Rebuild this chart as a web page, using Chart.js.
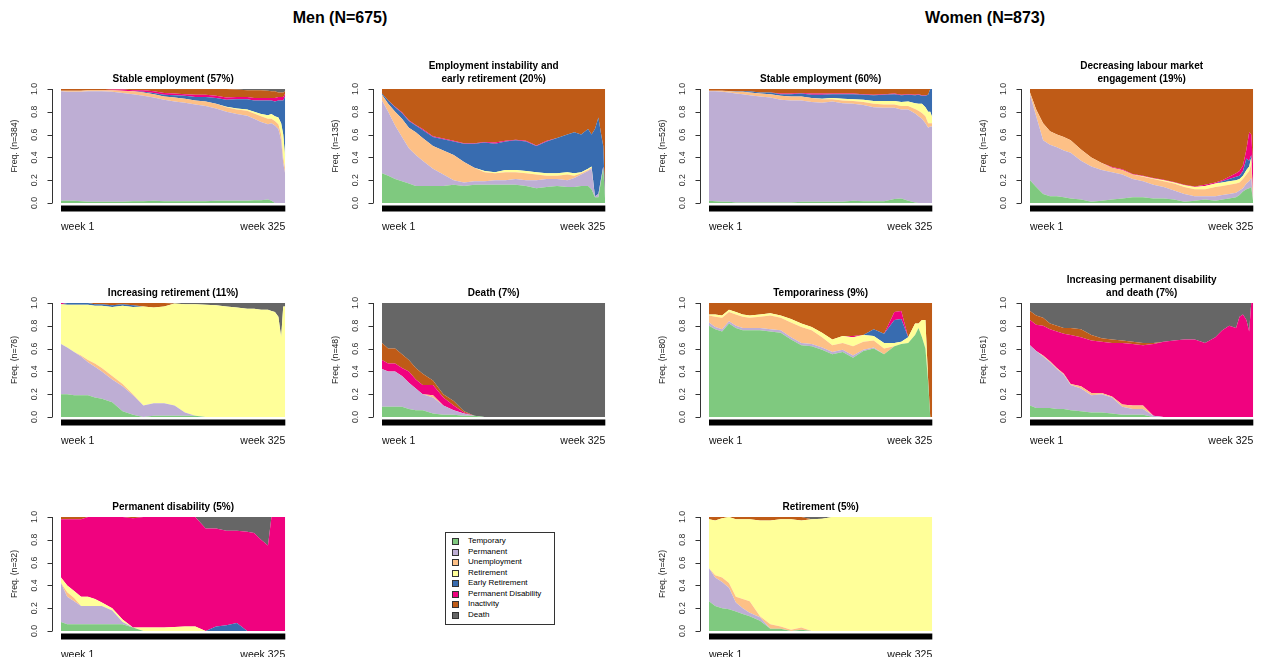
<!DOCTYPE html>
<html><head><meta charset="utf-8">
<script src="https://cdn.jsdelivr.net/npm/chart.js@4.4.1/dist/chart.umd.min.js"></script>
<style>
html,body{margin:0;padding:0;background:#fff;width:1271px;height:657px;overflow:hidden;font-family:"Liberation Sans",Arial,sans-serif;}
.grp{position:absolute;top:8px;font-weight:bold;font-size:16px;line-height:20px;transform:translateX(-50%);white-space:nowrap;color:#000;}
#legend{position:absolute;left:445px;top:532px;width:108px;height:91px;border:1px solid #333;background:#fff;}
#legend .row{position:absolute;left:0;height:10px;line-height:10px;font-size:8px;color:#000;white-space:nowrap;-webkit-font-smoothing:antialiased;}
#legend .sq{position:absolute;left:6px;top:2px;width:5px;height:5px;border:1px solid #333;}
#legend .tx{position:absolute;left:22px;top:0;color:#000;}
</style></head><body>
<div class="grp" style="left:340px">Men (N=675)</div>
<div class="grp" style="left:985px">Women (N=873)</div>
<div id="legend"></div>
<script>
// ---------- shared axes / categories ----------
const weeks = [1,10,20,30,40,50,60,75,90,105,120,135,150,165,180,195,210,225,240,255,270,280,290,300,305,310,315,319,322,325];
const weekTicks = [1, 325];
const states = ['Temporary','Permanent','Unemployment','Retirement','Early Retirement','Permanent Disability','Inactivity','Death'];
const stateColors = ['#7FC97F','#BEAED4','#FDC086','#FFFF99','#386CB0','#F0027F','#BF5B17','#666666'];

// ---------- Men: Stable employment (57%) ----------
const menStable_Temporary = [.02,.02,.02,.015,.01, .01,.01,.01,.01,.015, .015,.02,.015,.015,.015, .015,.015,.02,.02,.02, .02,.025,.025,.03,.02, 0,0,0,0,0];
const menStable_Permanent = [.96,.955,.955,.96,.97, .97,.97,.965,.955,.94, .925,.905,.89,.875,.865, .85,.835,.81,.78,.76, .745,.715,.685,.66,.68, .68,.65,.55,.35,.25];
const menStable_Unemployment = [.005,.01,.01,.01,.01, .01,.01,.015,.02,.025, .03,.03,.03,.035,.035, .035,.04,.04,.04,.04, .045,.045,.05,.05,.04, .04,.04,.05,.05,.04];
const menStable_Retirement = [0,0,0,0,0, 0,0,0,0,0, 0,0,0,0,0, 0,0,0,.005,.01, .01,.015,.02,.03,.04, .04,.06,.1,.2,.1];
const menStable_EarlyRetirement = [0,0,0,0,0, 0,0,0,0,0, .005,.01,.015,.02,.025, .03,.04,.05,.06,.08, .09,.1,.12,.13,.12, .13,.15,.2,.3,.55];
const menStable_PermDisability = [0,0,0,0,0, 0,0,.005,.01,.01, .015,.015,.015,.015,.015, .02,.02,.02,.02,.02, .02,.02,.02,.02,.02, .03,.03,.03,.03,.02];
const menStable_Inactivity = [.015,.015,.015,.015,.01, .01,.01,.01,.01,.02, .02,.025,.035,.04,.045, .05,.05,.06,.075,.065, .06,.07,.07,.065,.06, .06,.04,.04,.04,.02];
const menStable_Death = [0,0,0,0,0, 0,0,0,0,0, 0,0,0,0,0, 0,0,0,0,.005, .01,.01,.01,.015,.02, .02,.03,.03,.03,.02];

// ---------- Men: Employment instability and early retirement (20%) ----------
const menInstab_Temporary = [.26,.24,.21,.19,.17, .15,.15,.15,.15,.16, .15,.16,.16,.16,.16, .16,.15,.13,.14,.15, .14,.14,.15,.15,.12, .05,.05,.2,.3,0];
const menInstab_Permanent = [.64,.56,.47,.39,.31, .27,.22,.15,.1,.04, .03,.03,.03,.04,.04, .05,.05,.07,.07,.06, .06,.08,.1,.13,.18, .01,.03,.02,.02,0];
const menInstab_Unemployment = [.05,.07,.12,.16,.18, .2,.2,.2,.21,.22, .18,.12,.08,.06,.07, .06,.06,.05,.03,.03, .05,.02,.01,.01,.01, 0,0,0,0,0];
const menInstab_Retirement = [0,0,0,0,0, 0,0,0,0,0, 0,0,.01,.01,.02, .02,.02,.02,.02,.02, .02,.02,.01,.01,.01, 0,0,0,0,0];
const menInstab_EarlyRetirement = [.01,.03,.04,.05,.06, .06,.07,.08,.1,.12, .16,.21,.25,.25,.25, .26,.26,.23,.28,.31, .33,.36,.33,.35,.28, .59,.67,.38,.18,0];
const menInstab_PermDisability = [0,0,.005,.005,.005, .005,.01,.005,.005,.005, .005,.005,.005,.01,.005, .005,.005,.005,.005,0, 0,0,0,0,0, 0,0,0,0,0];
const menInstab_Inactivity = [.04,.1,.155,.205,.275, .315,.35,.415,.435,.455, .475,.475,.465,.47,.455, .445,.455,.495,.455,.43, .4,.38,.4,.35,.4, .35,.25,.4,.5,1];

// ---------- Women: Stable employment (60%) ----------
const womenStable_Temporary = [.02,.015,.01,.01,.005, .005,.005,.005,.005,.005, .005,.01,.01,.01,.01, .01,.02,.015,.015,.015, .035,.04,.02,.005,0, 0,0,0,0,0];
const womenStable_Permanent = [.96,.965,.965,.96,.955, .95,.94,.93,.92,.9, .895,.89,.875,.87,.88, .865,.85,.845,.825,.82, .8,.78,.8,.78,.76, .74,.7,.66,.67,.67];
const womenStable_Unemployment = [.005,.005,.01,.01,.015, .02,.025,.025,.03,.035, .035,.035,.035,.03,.02, .025,.025,.025,.03,.03, .03,.03,.03,.04,.05, .05,.06,.04,.03,.03];
const womenStable_Retirement = [0,0,0,0,0, 0,0,0,0,0, 0,0,0,.005,.01, .015,.015,.02,.025,.03, .03,.035,.04,.05,.06, .08,.08,.1,.1,.05];
const womenStable_EarlyRetirement = [0,0,0,.002,.005, .005,.01,.01,.015,.015, .02,.025,.03,.035,.035, .04,.045,.045,.05,.055, .06,.06,.06,.07,.08, .07,.1,.15,.2,.25];
const womenStable_PermDisability = [0,0,0,0,0, 0,0,0,0,.005, .005,.005,.01,.01,.005, .005,.005,.005,.005,.005, .005,.005,.005,.005,.005, .005,.005,0,0,0];
const womenStable_Inactivity = [.015,.015,.015,.018,.02, .02,.02,.03,.03,.04, .04,.035,.04,.04,.04, .04,.04,.045,.05,.045, .04,.05,.045,.05,.045, .055,.055,.05,0,0];

// ---------- Women: Decreasing labour market engagement (19%) ----------
const womenDecr_Temporary = [.2,.14,.08,.06,.06, .05,.04,.03,.01,.02, .03,.04,.05,.05,.04, .04,.03,.01,.02,.03, .02,.03,.04,.05,.07, .1,.12,.13,.14,0];
const womenDecr_Permanent = [.75,.62,.47,.45,.43, .41,.4,.34,.31,.27, .24,.21,.16,.14,.12, .1,.08,.07,.04,.03, .04,.04,.04,.04,.04, .03,.05,.06,.08,0];
const womenDecr_Unemployment = [.02,.06,.15,.12,.11, .12,.11,.1,.08,.06, .04,.04,.04,.04,.05, .05,.06,.06,.06,.06, .08,.08,.08,.08,.07, .08,.08,.09,.12,0];
const womenDecr_Retirement = [0,0,0,0,0, 0,0,0,0,0, 0,0,0,.005,.005, .01,.01,.015,.02,.03, .03,.03,.03,.03,.03, .03,.04,.04,.06,0];
const womenDecr_EarlyRetirement = [0,0,0,0,0, 0,0,0,0,0, 0,0,0,0,0, 0,0,0,0,0, 0,.01,.02,.03,.03, .04,.1,.05,.02,0];
const womenDecr_PermDisability = [0,0,0,0,0, 0,0,0,0,0, .005,.005,.005,.005,.005, .005,.005,.005,.005,.01, .01,.01,.02,.03,.04, .05,.08,.25,.18,.3];
const womenDecr_Inactivity = [.03,.18,.3,.37,.4, .42,.45,.53,.6,.65, .685,.705,.745,.76,.78, .8,.815,.84,.855,.84, .82,.8,.77,.74,.72, .67,.53,.38,.4,.7];

// ---------- Men: Increasing retirement (11%) ----------
const menIncRet_Temporary = [.2,.2,.19,.19,.19, .17,.16,.13,.05,.02, 0,.01,.01,.01,.01, .01,0,0,0,0, 0,0,0,0,0, 0,0,0,0,0];
const menIncRet_Permanent = [.44,.41,.38,.34,.29, .27,.24,.2,.22,.17, .1,.11,.11,.09,.03, 0,0,0,0,0, 0,0,0,0,0, 0,0,0,0,0];
const menIncRet_Unemployment = [0,0,0,.01,.02, .03,.03,.03,.02,.01, 0,0,0,0,0, 0,0,0,0,0, 0,0,0,0,0, 0,0,0,0,0];
const menIncRet_Retirement = [.35,.375,.415,.445,.485, .505,.545,.605,.685,.765, .87,.84,.85,.895,.95, .98,.985,.98,.97,.96, .95,.95,.94,.94,.93, .92,.88,.7,.97,.97];
const menIncRet_EarlyRetirement = [0,.015,.015,.015,.015, .015,.015,.015,.015,.015, 0,0,0,0,0, 0,0,0,0,0, 0,0,0,0,0, 0,0,0,0,0];
const menIncRet_PermDisability = [.01,0,0,0,0, 0,0,0,0,0, 0,0,0,0,0, 0,0,0,0,0, 0,0,0,0,0, 0,0,0,0,0];
const menIncRet_Inactivity = [0,0,0,0,0, .01,.01,.02,.01,.02, .03,.04,.03,0,0, 0,0,0,0,0, 0,0,0,0,0, 0,0,0,0,0];
const menIncRet_Death = [0,0,0,0,0, 0,0,0,0,0, 0,0,0,.005,.01, .01,.015,.02,.03,.04, .05,.05,.06,.06,.07, .08,.12,.3,.03,.03];

// ---------- Men: Death (7%) ----------
const menDeath_Temporary = [.09,.09,.09,.09,.07, .06,.06,.03,.02,.02, .01,.01,0,0,0, 0,0,0,0,0, 0,0,0,0,0, 0,0,0,0,0];
const menDeath_Permanent = [.33,.31,.31,.27,.23, .19,.14,.14,.08,.04, .02,0,0,0,0, 0,0,0,0,0, 0,0,0,0,0, 0,0,0,0,0];
const menDeath_Unemployment = [0,0,0,0,0, 0,0,.02,0,0, 0,0,0,0,0, 0,0,0,0,0, 0,0,0,0,0, 0,0,0,0,0];
const menDeath_PermDisability = [.08,.07,.07,.07,.1, .08,.08,.09,.07,.04, .01,0,0,0,0, 0,0,0,0,0, 0,0,0,0,0, 0,0,0,0,0];
const menDeath_Inactivity = [.15,.13,.13,.12,.1, .1,.1,.04,.03,.04, .01,0,0,0,0, 0,0,0,0,0, 0,0,0,0,0, 0,0,0,0,0];
const menDeath_Death = [.35,.4,.4,.45,.5, .57,.62,.68,.8,.86, .95,.99,1,1,1, 1,1,1,1,1, 1,1,1,1,1, 1,1,1,1,1];

// ---------- Women: Temporariness (9%) ----------
const womenTemp_Temporary = [.8,.77,.75,.82,.78, .76,.76,.76,.75,.74, .68,.63,.62,.59,.55, .57,.52,.58,.6,.55, .62,.64,.65,.72,.78, .7,.6,.3,0,0];
const womenTemp_Permanent = [.03,.02,.02,.02,.02, .02,.02,.02,.02,.02, .02,.02,.02,.02,.02, .02,.02,.01,.01,0, 0,0,0,0,0, 0,0,0,0,0];
const womenTemp_Unemployment = [.06,.09,.1,.08,.1, .1,.09,.1,.12,.11, .13,.14,.12,.09,.06, .06,.08,.07,.06,.05, 0,0,0,0,0, 0,0,0,0,0];
const womenTemp_Retirement = [.01,.02,.02,.02,.02, .02,.02,.02,.02,.02, .03,.03,.03,.04,.05, .06,.08,.06,.04,.05, .03,.02,.05,.1,.04, .15,.25,.02,0,0];
const womenTemp_EarlyRetirement = [0,0,0,0,0, 0,0,0,0,0, 0,0,0,0,0, 0,0,0,.06,.08, .2,.2,0,0,0, 0,0,0,0,0];
const womenTemp_PermDisability = [0,0,0,0,0, 0,0,0,0,0, 0,0,0,0,0, 0,.01,0,0,0, .07,.07,0,0,0, 0,0,0,0,0];
const womenTemp_Inactivity = [.1,.1,.11,.06,.08, .1,.11,.1,.09,.11, .14,.18,.21,.26,.32, .29,.29,.28,.23,.27, .08,.07,.3,.18,.18, .15,.15,.68,1,1];

// ---------- Women: Increasing permanent disability and death (7%) ----------
const womenIncPD_Temporary = [.1,.08,.08,.08,.07, .07,.06,.05,.04,.04, .03,.02,.02,.02,0, 0,0,0,0,0, 0,0,0,0,0, 0,0,0,0,0];
const womenIncPD_Permanent = [.53,.5,.45,.4,.35, .3,.22,.2,.15,.16, .14,.07,.05,.05,.01, 0,0,0,0,0, 0,0,0,0,0, 0,0,0,0,0];
const womenIncPD_Unemployment = [0,0,.01,.01,.01, .01,.01,.02,.02,.01, .01,.02,.03,.03,0, 0,0,0,0,0, 0,0,0,0,0, 0,0,0,0,0];
const womenIncPD_PermDisability = [.22,.23,.26,.28,.32, .35,.43,.43,.46,.45, .47,.54,.54,.53,.63, .66,.67,.68,.68,.65, .7,.76,.8,.78,.88, .9,.85,.75,1,1];
const womenIncPD_Inactivity = [.08,.08,.07,.05,.05, .05,.06,.07,.05,.03, .03,.02,.02,.02,.01, 0,0,0,0,0, 0,0,0,0,0, 0,0,0,0,0];
const womenIncPD_Death = [.07,.11,.13,.18,.2, .22,.22,.23,.28,.31, .32,.33,.34,.35,.35, .34,.33,.32,.32,.35, .3,.24,.2,.22,.12, .1,.15,.25,0,0];

// ---------- Men: Permanent disability (5%) ----------
const menPD_Temporary = [.08,.06,.06,.06,.06, .06,.06,.06,.06,.03, 0,0,0,0,0, 0,0,0,0,0, 0,0,0,0,0, 0,0,0,0,0];
const menPD_Permanent = [.34,.24,.2,.16,.16, .16,.16,.12,.02,0, 0,0,0,0,0, 0,0,0,0,0, 0,0,0,0,0, 0,0,0,0,0];
const menPD_Unemployment = [0,.04,.03,0,0, 0,0,0,0,0, 0,0,0,0,0, 0,0,0,0,0, 0,0,0,0,0, 0,0,0,0,0];
const menPD_Retirement = [.05,.06,.06,.08,.08, .06,.03,.02,.02,0, .03,.03,.03,.035,.04, .04,0,0,0,0, 0,0,0,0,0, 0,0,0,0,0];
const menPD_EarlyRetirement = [0,0,0,0,0, 0,0,0,0,0, 0,0,0,0,0, 0,0,.04,.05,.07, 0,0,0,0,0, 0,0,0,0,0];
const menPD_PermDisability = [.51,.58,.63,.68,.7, .72,.75,.8,.9,.96, .97,.97,.97,.965,.96, .96,.9,.86,.83,.81, .87,.86,.8,.75,1, 1,1,1,1,1];
const menPD_Inactivity = [.02,.02,.02,.02,0, 0,0,0,0,.01, 0,0,0,0,0, 0,0,0,0,0, 0,0,0,0,0, 0,0,0,0,0];
const menPD_Death = [0,0,0,0,0, 0,0,0,0,0, 0,0,0,0,0, 0,.1,.1,.12,.12, .13,.14,.2,.25,0, 0,0,0,0,0];

// ---------- Women: Retirement (5%) ----------
const womenRet_Temporary = [.26,.22,.2,.19,.17, .15,.13,.09,.02,.02, 0,.01,0,0,0, 0,0,0,0,0, 0,0,0,0,0, 0,0,0,0,0];
const womenRet_Permanent = [.29,.25,.23,.19,.08, .05,.03,.03,0,0, 0,0,0,0,0, 0,0,0,0,0, 0,0,0,0,0, 0,0,0,0,0];
const womenRet_Unemployment = [0,.02,.04,.04,.05, .08,.1,.01,.04,.02, .01,.02,0,0,0, 0,0,0,0,0, 0,0,0,0,0, 0,0,0,0,0];
const womenRet_Retirement = [.43,.48,.52,.58,.68, .7,.72,.84,.91,.94, .97,.94,.98,.985,1, 1,1,1,1,1, 1,1,1,1,1, 1,1,1,1,1];
const womenRet_Inactivity = [.02,.03,.01,0,.02, .02,.02,.03,.03,.02, .02,.03,0,0,0, 0,0,0,0,0, 0,0,0,0,0, 0,0,0,0,0];
const womenRet_Death = [0,0,0,0,0, 0,0,0,0,0, 0,0,.02,.015,0, 0,0,0,0,0, 0,0,0,0,0, 0,0,0,0,0];

// ---------- panels (series in state order; null = state absent) ----------
const panels = [
  {title:['Stable employment (57%)'], n:384, series:[menStable_Temporary,menStable_Permanent,menStable_Unemployment,menStable_Retirement,menStable_EarlyRetirement,menStable_PermDisability,menStable_Inactivity,menStable_Death]},
  {title:['Employment instability and','early retirement (20%)'], n:135, series:[menInstab_Temporary,menInstab_Permanent,menInstab_Unemployment,menInstab_Retirement,menInstab_EarlyRetirement,menInstab_PermDisability,menInstab_Inactivity,null]},
  {title:['Stable employment (60%)'], n:526, series:[womenStable_Temporary,womenStable_Permanent,womenStable_Unemployment,womenStable_Retirement,womenStable_EarlyRetirement,womenStable_PermDisability,womenStable_Inactivity,null]},
  {title:['Decreasing labour market','engagement (19%)'], n:164, series:[womenDecr_Temporary,womenDecr_Permanent,womenDecr_Unemployment,womenDecr_Retirement,womenDecr_EarlyRetirement,womenDecr_PermDisability,womenDecr_Inactivity,null]},
  {title:['Increasing retirement (11%)'], n:76, series:[menIncRet_Temporary,menIncRet_Permanent,menIncRet_Unemployment,menIncRet_Retirement,menIncRet_EarlyRetirement,menIncRet_PermDisability,menIncRet_Inactivity,menIncRet_Death]},
  {title:['Death (7%)'], n:48, series:[menDeath_Temporary,menDeath_Permanent,menDeath_Unemployment,null,null,menDeath_PermDisability,menDeath_Inactivity,menDeath_Death]},
  {title:['Temporariness (9%)'], n:80, series:[womenTemp_Temporary,womenTemp_Permanent,womenTemp_Unemployment,womenTemp_Retirement,womenTemp_EarlyRetirement,womenTemp_PermDisability,womenTemp_Inactivity,null]},
  {title:['Increasing permanent disability','and death (7%)'], n:61, series:[womenIncPD_Temporary,womenIncPD_Permanent,womenIncPD_Unemployment,null,null,womenIncPD_PermDisability,womenIncPD_Inactivity,womenIncPD_Death]},
  {title:['Permanent disability (5%)'], n:32, series:[menPD_Temporary,menPD_Permanent,menPD_Unemployment,menPD_Retirement,menPD_EarlyRetirement,menPD_PermDisability,menPD_Inactivity,menPD_Death]},
  {title:['Retirement (5%)'], n:42, series:[womenRet_Temporary,womenRet_Permanent,womenRet_Unemployment,womenRet_Retirement,null,null,womenRet_Inactivity,womenRet_Death]}
];

// ---------- layout (plot-area boxes in page pixels) ----------
const boxes = [
  {left:61,top:89,width:236,height:114},{left:382,top:89,width:235,height:114},{left:709,top:89,width:235,height:114},{left:1030,top:89,width:235,height:114},
  {left:61,top:303,width:236,height:114},{left:382,top:303,width:235,height:114},{left:709,top:303,width:235,height:114},{left:1030,top:303,width:235,height:114},
  {left:61,top:517,width:236,height:114},{left:709,top:517,width:235,height:114}
];
const Y_W = 61, TOP_H = 40, X_H = 30, RIGHT_PAD = 6;
const FONT = '"Liberation Sans", Arial, Helvetica, sans-serif';
Chart.defaults.font.family = FONT;

// R-style y axis (detached line, outward ticks, rotated labels) and black sequence bar
const rAxisPlugin = {
  id: 'rAxis',
  afterDraw(chart) {
    const {ctx, chartArea: a, scales: {y}} = chart;
    ctx.save();
    ctx.fillStyle = '#000';
    ctx.fillRect(a.left, a.bottom + 2.5, a.right - a.left, 6);
    const ax = Math.round(a.left - 9) + 0.5;
    ctx.strokeStyle = '#333';
    ctx.lineWidth = 1;
    ctx.beginPath();
    ctx.moveTo(ax, y.getPixelForValue(0));
    ctx.lineTo(ax, y.getPixelForValue(1));
    y.ticks.forEach(t => {
      const py = Math.round(y.getPixelForValue(t.value)) + 0.5;
      ctx.moveTo(ax, py); ctx.lineTo(ax - 5, py);
    });
    ctx.stroke();
    ctx.fillStyle = '#333';
    ctx.font = '8.7px ' + FONT;
    ctx.textAlign = 'center';
    ctx.textBaseline = 'middle';
    y.ticks.forEach(t => {
      const py = y.getPixelForValue(t.value);
      ctx.save();
      ctx.translate(a.left - 26, py);
      ctx.rotate(-Math.PI / 2);
      ctx.fillText(Number(t.value).toFixed(1), 0, 0);
      ctx.restore();
    });
    ctx.restore();
  }
};

function makePanel(p, box) {
  const cw = Y_W + box.width + RIGHT_PAD, ch = TOP_H + box.height + X_H;
  const canvas = document.createElement('canvas');
  canvas.width = cw; canvas.height = ch;
  canvas.style.cssText = 'position:absolute;left:' + (box.left - Y_W) + 'px;top:' + (box.top - TOP_H) + 'px;width:' + cw + 'px;height:' + ch + 'px';
  document.body.appendChild(canvas);
  const datasets = [];
  p.series.forEach((vals, i) => {
    if (!vals) return;
    datasets.push({
      label: states[i],
      data: weeks.map((w, j) => ({x: w, y: vals[j]})),
      backgroundColor: stateColors[i],
      borderColor: stateColors[i],
      borderWidth: 0,
      pointRadius: 0,
      pointHoverRadius: 0,
      tension: 0,
      fill: datasets.length === 0 ? 'origin' : '-1'
    });
  });
  const twoLines = p.title.length > 1;
  new Chart(canvas, {
    type: 'line',
    data: {datasets},
    options: {
      responsive: false,
      animation: false,
      devicePixelRatio: 1,
      events: [],
      layout: {padding: {left: 0, right: RIGHT_PAD, top: 0, bottom: 0}},
      plugins: {
        legend: {display: false},
        tooltip: {enabled: false},
        title: {
          display: true, text: p.title, fullSize: false, color: '#000',
          font: {size: 10, weight: 'bold', lineHeight: 1.3},
          padding: {top: twoLines ? 10.5 : 23.5, bottom: 3.5}
        }
      },
      scales: {
        x: {
          type: 'linear', min: 1, max: 325,
          grid: {display: false, drawTicks: false},
          border: {display: false},
          afterBuildTicks: s => { s.ticks = weekTicks.map(v => ({value: v})); },
          afterFit: s => { s.height = X_H; },
          ticks: {
            align: 'inner', autoSkip: false, maxRotation: 0, minRotation: 0,
            padding: 17.7, color: '#111', font: {size: 10.5},
            callback: v => 'week ' + v
          }
        },
        y: {
          stacked: true, min: 0, max: 1,
          grid: {display: false},
          border: {display: false},
          ticks: {display: false, stepSize: 0.2},
          afterFit: s => { s.width = Y_W; },
          title: {display: true, text: 'Freq. (n=' + p.n + ')', color: '#222', font: {size: 8.7}, padding: {top: 9.8, bottom: 0}}
        }
      }
    },
    plugins: [rAxisPlugin]
  });
}

panels.forEach((p, i) => makePanel(p, boxes[i]));

// legend
const legend = document.getElementById('legend');
states.forEach((s, i) => {
  const row = document.createElement('div');
  row.className = 'row';
  row.style.top = (3 + i * 10.57) + 'px';
  row.style.width = '100%';
  row.innerHTML = '<span class="sq" style="background:' + stateColors[i] + '"></span><span class="tx">' + s + '</span>';
  legend.appendChild(row);
});
</script>
</body></html>
